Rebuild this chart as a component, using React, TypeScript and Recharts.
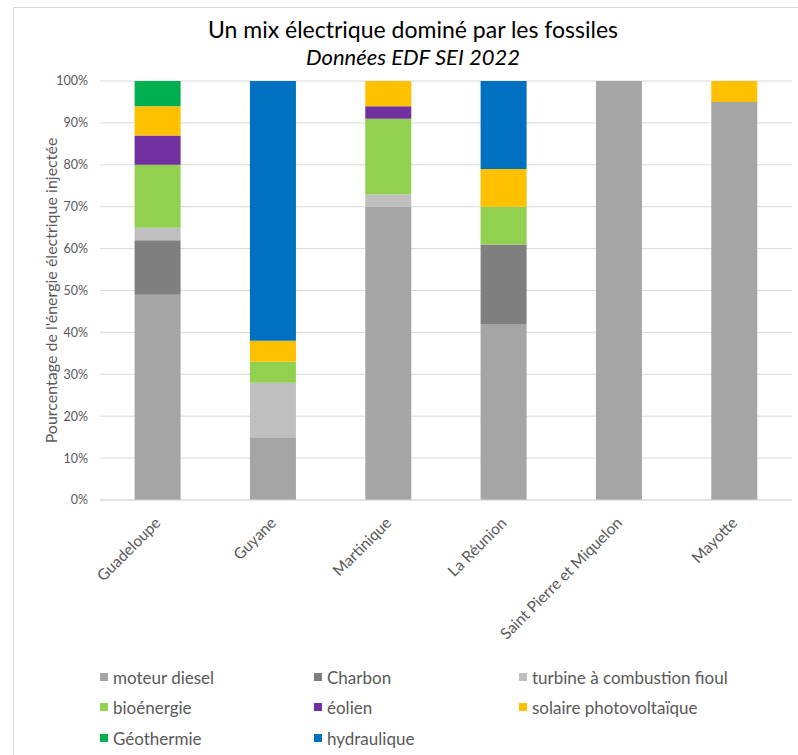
import { BarChart, Bar, XAxis, YAxis, CartesianGrid } from 'recharts'

const categories = ['Guadeloupe', 'Guyane', 'Martinique', 'La Réunion', 'Saint Pierre et Miquelon', 'Mayotte']

// parts de l'énergie injectée, en %
const moteurDiesel = [49, 15, 70, 42, 100, 95]
const charbon = [13, 0, 0, 19, 0, 0]
const turbineFioul = [3, 13, 3, 0, 0, 0]
const bioenergie = [15, 5, 18, 9, 0, 0]
const eolien = [7, 0, 3, 0, 0, 0]
const solaire = [7, 5, 6, 9, 0, 5]
const geothermie = [6, 0, 0, 0, 0, 0]
const hydraulique = [0, 62, 0, 21, 0, 0]

const yTicks = [0, 10, 20, 30, 40, 50, 60, 70, 80, 90, 100]

const SERIES = [
  { key: 'diesel', name: 'moteur diesel', values: moteurDiesel, color: '#A5A5A5' },
  { key: 'charbon', name: 'Charbon', values: charbon, color: '#7F7F7F' },
  { key: 'turbine', name: 'turbine à combustion fioul', values: turbineFioul, color: '#BFBFBF' },
  { key: 'bio', name: 'bioénergie', values: bioenergie, color: '#92D050' },
  { key: 'eolien', name: 'éolien', values: eolien, color: '#7030A0' },
  { key: 'solaire', name: 'solaire photovoltaïque', values: solaire, color: '#FFC000' },
  { key: 'geo', name: 'Géothermie', values: geothermie, color: '#00B050' },
  { key: 'hydro', name: 'hydraulique', values: hydraulique, color: '#0070C0' },
]

const data = categories.map((c, i) => {
  const row: Record<string, string | number> = { name: c }
  SERIES.forEach((s) => {
    row[s.key] = s.values[i]
  })
  return row
})

const FONT = 'Lato, "Open Sans", sans-serif'
const TEXT = '#595959'

function XTick({ x, y, payload }: any) {
  return (
    <g transform={`translate(${x + 4},${y + 16}) rotate(-45)`}>
      <text x={0} y={0} textAnchor="end" fill={TEXT} fontSize={15.5} fontFamily={FONT}>
        {payload.value}
      </text>
    </g>
  )
}

// légende sur 3 colonnes
const legendCols = [100, 314, 519]
const legendRows = [677, 707, 738]

export default function App() {
  return (
    <div style={{ position: 'absolute', left: 0, top: 0, width: 798, height: 755, background: '#fff', fontFamily: FONT }}>
      <div
        style={{
          position: 'absolute',
          left: 13,
          top: 7,
          width: 800,
          height: 760,
          borderLeft: '1px solid #d9d9d9',
          borderTop: '1px solid #d9d9d9',
        }}
      />
      <div style={{ position: 'absolute', left: 0, width: 826, top: 15, textAlign: 'center', fontSize: 23, color: '#000' }}>
        Un mix électrique dominé par les fossiles
      </div>
      <div
        style={{ position: 'absolute', left: 0, width: 826, top: 43, textAlign: 'center', fontSize: 22, fontStyle: 'italic', color: '#000' }}
      >
        Données EDF SEI 2022
      </div>
      <div style={{ position: 'absolute', left: 0, top: 0 }}>
        <BarChart
          width={798}
          height={755}
          data={data}
          barCategoryGap="30%"
          margin={{ top: 81, right: 6, left: 0, bottom: 0 }}
        >
          <CartesianGrid vertical={false} stroke="#d9d9d9" />
          <XAxis
            dataKey="name"
            height={255}
            interval={0}
            tick={<XTick />}
            tickLine={false}
            axisLine={{ stroke: '#d9d9d9' }}
          />
          <YAxis
            width={100}
            domain={[0, 100]}
            ticks={yTicks}
            tickFormatter={(v) => `${v}%`}
            tick={{ fill: TEXT, fontSize: 12.5, fontFamily: FONT }}
            tickLine={false}
            axisLine={false}
            tickMargin={6}
            label={{
              value: "Pourcentage de l'énergie électrique injectée",
              angle: -90,
              position: 'insideLeft',
              offset: 51,
              style: { textAnchor: 'middle', fill: TEXT, fontSize: 16, fontFamily: FONT },
            }}
          />
          {SERIES.map((s) => (
            <Bar key={s.key} dataKey={s.key} name={s.name} stackId="mix" fill={s.color} isAnimationActive={false} />
          ))}
        </BarChart>
      </div>
      {SERIES.map((s, i) => (
        <div
          key={s.key}
          style={{
            position: 'absolute',
            left: legendCols[i % 3],
            top: legendRows[Math.floor(i / 3)] - 11,
            height: 22,
            display: 'flex',
            alignItems: 'center',
            fontSize: 17,
            color: TEXT,
            whiteSpace: 'nowrap',
          }}
        >
          <span style={{ display: 'inline-block', width: 8, height: 8, background: s.color, marginRight: 5 }} />
          {s.name}
        </div>
      ))}
    </div>
  )
}
